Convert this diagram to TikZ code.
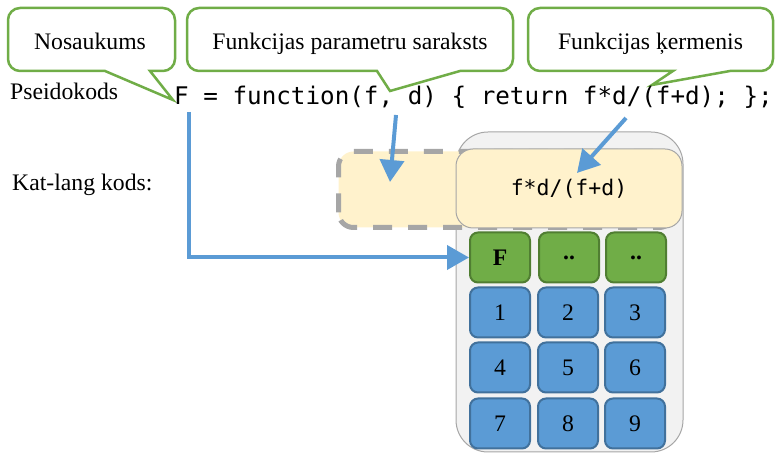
\documentclass[tikz,border=0pt]{standalone}
\usepackage{fontspec}
\setmainfont{Liberation Serif}
\newfontfamily\codefont{DejaVu Sans Mono}
\usetikzlibrary{arrows.meta}
\definecolor{cgreen}{HTML}{70AD47}
\definecolor{cgreendk}{HTML}{507E32}
\definecolor{cblue}{HTML}{5B9BD5}
\definecolor{cbluedk}{HTML}{41719C}
\definecolor{cyellow}{HTML}{FFF2CC}
\definecolor{cgrey}{HTML}{F2F2F2}
\definecolor{cgreyln}{HTML}{A6A6A6}
\tikzset{
  calloutline/.style={draw=cgreen, line width=2.5pt, fill=white, line join=miter},
  serif/.style={font=\fontsize{23.7}{28}\selectfont, inner sep=0pt},
  codetxt/.style={font=\codefont\fontsize{24.25}{28}\selectfont, inner sep=0pt},
  gkey/.style={draw=cgreendk, fill=cgreen, line width=2pt, rounded corners=8pt,
    minimum width=60pt, minimum height=50pt, inner sep=0pt,
    font=\fontsize{23.7}{28}\selectfont\bfseries},
  bkey/.style={draw=cbluedk, fill=cblue, line width=2pt, rounded corners=8pt,
    minimum width=60pt, minimum height=50pt, inner sep=0pt,
    font=\fontsize{23.7}{28}\selectfont},
  bluearrow/.style={draw=cblue, line width=4pt, -{Triangle[length=22pt,width=24pt]}},
}
\begin{document}
\begin{tikzpicture}[x=1pt,y=1pt]
\useasboundingbox (0,0) rectangle (776,454);

% callouts
\draw[calloutline] (20,446) -- (163,446) arc[start angle=90,end angle=0,radius=12]
  -- (175,395) arc[start angle=0,end angle=-90,radius=12]
  -- (150,383) -- (173,354) -- (105,383)
  -- (20,383) arc[start angle=270,end angle=180,radius=12]
  -- (8,434) arc[start angle=180,end angle=90,radius=12] -- cycle;
\draw[calloutline] (199,446) -- (501,446) arc[start angle=90,end angle=0,radius=12]
  -- (513,395) arc[start angle=0,end angle=-90,radius=12]
  -- (460,383) -- (390,363) -- (377,383)
  -- (199,383) arc[start angle=270,end angle=180,radius=12]
  -- (187,434) arc[start angle=180,end angle=90,radius=12] -- cycle;
\draw[calloutline] (540,446) -- (761,446) arc[start angle=90,end angle=0,radius=12]
  -- (773,395) arc[start angle=0,end angle=-90,radius=12]
  -- (730,383) -- (652,369) -- (673,383)
  -- (540,383) arc[start angle=270,end angle=180,radius=12]
  -- (528,434) arc[start angle=180,end angle=90,radius=12] -- cycle;

\node[serif, anchor=base] (t1) at (90,404) {Nosaukums};
\node[serif, anchor=base] (t2) at (350,404) {Funkcijas parametru saraksts};
\node[serif, anchor=base] (t3) at (650.5,404) {Funkcijas ķermenis};

% texts
\node[serif, anchor=base west] (pseudo) at (10,354) {Pseidokods};
\node[codetxt, anchor=base west] (code) at (174,349) {F = function(f, d) \{ return f*d/(f+d); \};};
\node[serif, anchor=base west] (kat) at (12,263) {Kat-lang kods:};

% calculator body
\draw[draw=cgreyln, fill=cgrey, line width=1pt, rounded corners=32pt] (456,2) rectangle (683,322);
\draw[draw=cgreyln, fill=cyellow, line width=5pt, dash pattern=on 19pt off 16pt, rounded corners=15pt]
  (338.5,226.5) rectangle (674,302.5);
\node[draw=cgreyln, fill=cyellow, line width=1pt, rounded corners=17pt,
  minimum width=226pt, minimum height=79pt, inner sep=0pt,
  font=\codefont\fontsize{21.5}{26}\selectfont] (body) at (569,265.5) {f*d/(f+d)};

% keys
\node[gkey] (kF) at (500,196.5) {F};
\node[gkey] (kA) at (569,196.5) {..};
\node[gkey] (kB) at (636,196.5) {..};
\node[bkey] (k1) at (500,141.5) {1};
\node[bkey] (k2) at (568,141.5) {2};
\node[bkey] (k3) at (635,141.5) {3};
\node[bkey] (k4) at (500,86.5) {4};
\node[bkey] (k5) at (568,86.5) {5};
\node[bkey] (k6) at (635,86.5) {6};
\node[bkey] (k7) at (500,30.5) {7};
\node[bkey] (k8) at (568,30.5) {8};
\node[bkey] (k9) at (635,30.5) {9};

% arrows
\coordinate (a1s) at (189,342);
\coordinate (a2s) at (396,339);
\coordinate (a2e) at (390,272);
\coordinate (a3s) at (626,336);
\coordinate (a3e) at (577,281);
\draw[bluearrow] (a1s) |- (kF.west);
\draw[bluearrow] (a2s) -- (a2e);
\draw[bluearrow] (a3s) -- (a3e);
\end{tikzpicture}
\end{document}
